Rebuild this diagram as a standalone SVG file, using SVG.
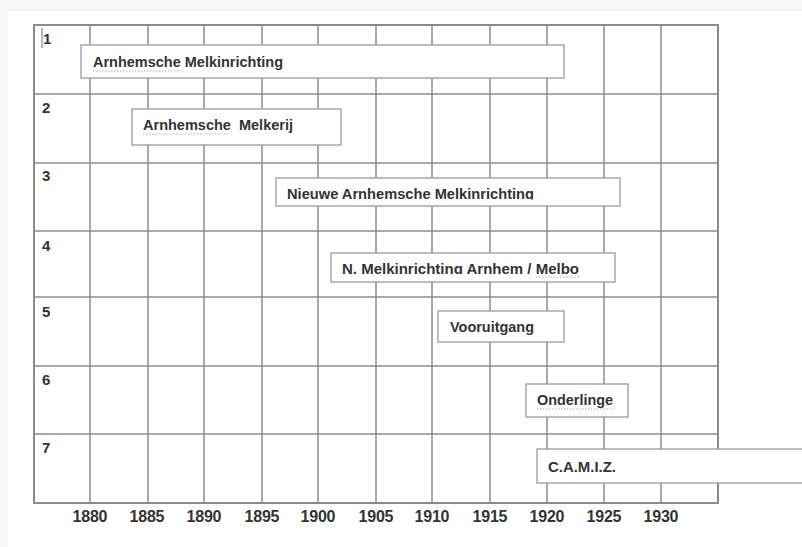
<svg xmlns="http://www.w3.org/2000/svg" width="802" height="547" viewBox="0 0 802 547">
<defs>
<style>
.grid line{stroke:#8c8c8c;stroke-width:1.5}
.frame{fill:none;stroke:#8c8c8c;stroke-width:2}
.box{fill:#fff;stroke:#9a9a9a;stroke-width:1.3}
.lbl{font-family:"Liberation Sans",Arial,sans-serif;font-weight:bold;font-size:15px;fill:#333}
.num{font-family:"Liberation Sans",Arial,sans-serif;font-weight:bold;font-size:15px;fill:#333}
.yr{font-family:"Liberation Sans",Arial,sans-serif;font-weight:bold;font-size:16px;fill:#333;text-anchor:middle}
.sq{fill:none;stroke:#b0b0b0;stroke-width:1;stroke-dasharray:1.5 1.5}
</style>
<clipPath id="c3"><rect x="270" y="170" width="360" height="29.5"/></clipPath>
<clipPath id="c4"><rect x="325" y="245" width="300" height="29"/></clipPath>
</defs>
<rect x="0" y="0" width="802" height="547" fill="#f6f6f6"/>
<rect x="8" y="10" width="794" height="537" fill="#fff"/>
<line x1="8" y1="10" x2="802" y2="10" stroke="#ececec" stroke-width="1"/>

<g id="grid" class="grid">
<line x1="90" y1="25" x2="90" y2="503"/>
<line x1="148" y1="25" x2="148" y2="503"/>
<line x1="204" y1="25" x2="204" y2="503"/>
<line x1="262" y1="25" x2="262" y2="503"/>
<line x1="318" y1="25" x2="318" y2="503"/>
<line x1="376" y1="25" x2="376" y2="503"/>
<line x1="432" y1="25" x2="432" y2="503"/>
<line x1="490" y1="25" x2="490" y2="503"/>
<line x1="547" y1="25" x2="547" y2="503"/>
<line x1="604" y1="25" x2="604" y2="503"/>
<line x1="661" y1="25" x2="661" y2="503"/>
<line x1="34" y1="94" x2="718" y2="94"/>
<line x1="34" y1="163" x2="718" y2="163"/>
<line x1="34" y1="231" x2="718" y2="231"/>
<line x1="34" y1="297" x2="718" y2="297"/>
<line x1="34" y1="366" x2="718" y2="366"/>
<line x1="34" y1="434" x2="718" y2="434"/>
<rect class="frame" x="34" y="25" width="684" height="478"/>
</g>

<g id="rownums">
<line x1="42" y1="28" x2="42" y2="48" stroke="#777" stroke-width="1"/>
<text class="num" x="43" y="44">1</text>
<text class="num" x="42" y="113">2</text>
<text class="num" x="42" y="181">3</text>
<text class="num" x="42" y="251">4</text>
<text class="num" x="42" y="317">5</text>
<text class="num" x="42" y="385">6</text>
<text class="num" x="42" y="453">7</text>
</g>

<g id="years">
<text class="yr" x="90" y="522" textLength="35">1880</text>
<text class="yr" x="147" y="522" textLength="35">1885</text>
<text class="yr" x="204" y="522" textLength="35">1890</text>
<text class="yr" x="262" y="522" textLength="35">1895</text>
<text class="yr" x="318" y="522" textLength="35">1900</text>
<text class="yr" x="376" y="522" textLength="35">1905</text>
<text class="yr" x="432" y="522" textLength="35">1910</text>
<text class="yr" x="490" y="522" textLength="35">1915</text>
<text class="yr" x="547" y="522" textLength="35">1920</text>
<text class="yr" x="604" y="522" textLength="35">1925</text>
<text class="yr" x="661" y="522" textLength="35">1930</text>
</g>

<g id="connectors"></g>

<g id="n1">
<rect class="box" x="81" y="45" width="483" height="33"/>
<text class="lbl" x="93" y="67" textLength="190" lengthAdjust="spacingAndGlyphs">Arnhemsche Melkinrichting</text>
<path class="sq" d="M93 71 H181"/>
</g>
<g id="n2">
<rect class="box" x="132" y="109" width="209" height="36"/>
<text class="lbl" x="143" y="130" textLength="150" lengthAdjust="spacingAndGlyphs" xml:space="preserve">Arnhemsche  Melkerij</text>
<path class="sq" d="M143 134 H228"/>
</g>
<g id="n3">
<rect class="box" x="276" y="178" width="344" height="28"/>
<text class="lbl" x="287" y="199" textLength="247" lengthAdjust="spacingAndGlyphs" clip-path="url(#c3)">Nieuwe Arnhemsche Melkinrichting</text>
</g>
<g id="n4">
<rect class="box" x="331" y="253" width="284" height="29"/>
<text class="lbl" x="342" y="274" textLength="237" lengthAdjust="spacingAndGlyphs" clip-path="url(#c4)">N. Melkinrichting Arnhem / Melbo</text>
<path class="sq" d="M536 277 H580"/>
</g>
<g id="n5">
<rect class="box" x="438" y="311" width="126" height="31"/>
<text class="lbl" x="450" y="332" textLength="84" lengthAdjust="spacingAndGlyphs">Vooruitgang</text>
</g>
<g id="n6">
<rect class="box" x="526" y="384" width="102" height="33"/>
<text class="lbl" x="537" y="405" textLength="76" lengthAdjust="spacingAndGlyphs">Onderlinge</text>
<path class="sq" d="M537 409 H613"/>
</g>
<g id="n7">
<rect class="box" x="537" y="449" width="270" height="34"/>
<text class="lbl" x="548" y="472" textLength="68" lengthAdjust="spacingAndGlyphs">C.A.M.I.Z.</text>
</g>
</svg>
